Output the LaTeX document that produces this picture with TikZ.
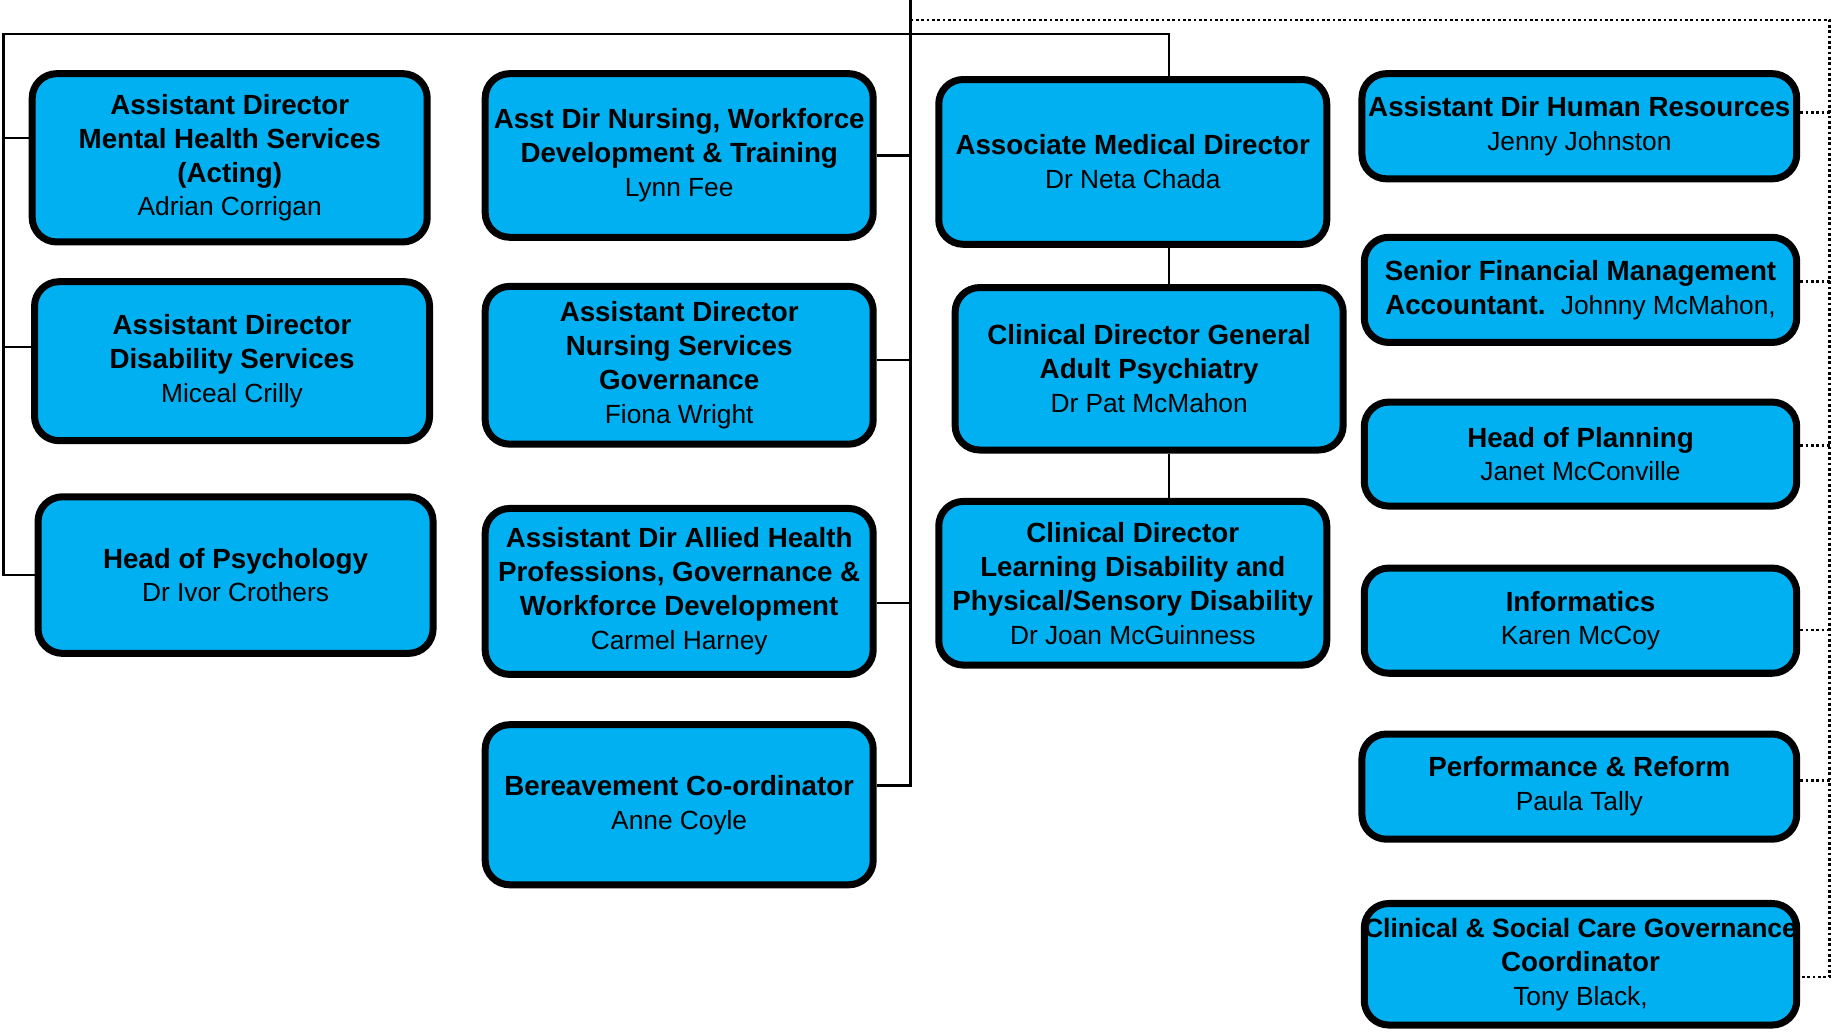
\documentclass[tikz,border=0pt]{standalone}
\usepackage{fontspec}
\setmainfont{Liberation Sans}
\usepackage{xcolor}
\usepackage{tikz}
\usetikzlibrary{positioning, backgrounds}
\definecolor{orgblue}{HTML}{00B0F0}
\newcommand{\who}[1]{{\fontsize{12.8}{16.5}\selectfont #1}}
\tikzset{
    post/.style={rectangle, draw=black, line width=0.12cm, fill=orgblue, rounded corners=0.42cm, align=center, inner sep=0pt, font=\fontsize{13.5}{16.5}\selectfont},
    postA/.style={post, minimum width=6.76cm},
    postB/.style={post, minimum width=6.64cm},
    postC/.style={post, minimum width=6.64cm},
    postD/.style={post, minimum width=7.40cm, minimum height=1.80cm},
    link/.style={line width=1.2pt},
    dotlink/.style={line width=1.3pt, dash pattern=on 1.3pt off 1.3pt},
}

\begin{document}
\begin{tikzpicture}[x=0.02cm, y=-0.02cm]
    \useasboundingbox (0,0) rectangle (1568,882);

    % === LEFT COLUMN ===
    \node[postA, minimum height=2.88cm] (mhs) at (196.5,135) {\textbf{Assistant Director}\\\textbf{Mental Health Services}\\\textbf{(Acting)}\\\who{Adrian Corrigan}};
    \node[postA, minimum height=2.72cm, below=0.56cm of mhs, xshift=0.04cm] (dis) {\textbf{Assistant Director}\\\textbf{Disability Services}\\\who{Miceal Crilly}};
    \node[postA, minimum height=2.68cm, below=0.84cm of dis, xshift=0.06cm] (psy) {\textbf{Head of Psychology}\\\who{Dr Ivor Crothers}};

    % === NURSING COLUMN ===
    \node[postB, minimum height=2.80cm] (nwd) at (581,133) {\textbf{Asst Dir Nursing, Workforce}\\\textbf{Development \& Training}\\\who{Lynn Fee}};
    \node[postB, minimum height=2.70cm, below=0.72cm of nwd] (nsg) {\textbf{Assistant Director}\\\textbf{Nursing Services}\\\textbf{Governance}\\\who{Fiona Wright}};
    \node[postB, minimum height=2.84cm, below=0.98cm of nsg] (ahp) {\textbf{Assistant Dir Allied Health}\\\textbf{Professions, Governance \&}\\\textbf{Workforce Development}\\\who{Carmel Harney}};
    \node[postB, minimum height=2.74cm, below=0.74cm of ahp] (ber) {\textbf{Bereavement Co-ordinator}\\\who{Anne Coyle}};

    % === MEDICAL COLUMN ===
    \node[postC, minimum height=2.82cm] (amd) at (969,138.5) {\textbf{Associate Medical Director}\\\who{Dr Neta Chada}};
    \node[postC, minimum height=2.78cm, below=0.62cm of amd, xshift=0.28cm] (gap) {\textbf{Clinical Director General}\\\textbf{Adult Psychiatry}\\\who{Dr Pat McMahon}};
    \node[postC, minimum height=2.80cm, below=0.76cm of gap, xshift=-0.28cm] (ldp) {\textbf{Clinical Director}\\\textbf{Learning Disability and}\\\textbf{Physical/Sensory Disability}\\\who{Dr Joan McGuinness}};

    % === SUPPORT COLUMN ===
    \node[postD, minimum width=7.44cm] (hr) at (1351,108) {\textbf{Assistant Dir Human Resources}\\\who{Jenny Johnston}};
    \node[postD, below=0.88cm of hr, xshift=0.02cm] (fin) {\textbf{Senior Financial Management}\\\textbf{Accountant.}\ \ \who{Johnny McMahon,}};
    \node[postD, minimum height=1.78cm, below=0.90cm of fin] (pla) {\textbf{Head of Planning}\\\who{Janet McConville}};
    \node[postD, below=0.94cm of pla] (inf) {\textbf{Informatics}\\\who{Karen McCoy}};
    \node[postD, minimum width=7.44cm, below=0.92cm of inf, xshift=-0.02cm] (per) {\textbf{Performance \& Reform}\\\who{Paula Tally}};
    \node[postD, minimum height=2.08cm, below=0.98cm of per, xshift=0.02cm] (gov) {\makebox[7cm]{\fontsize{12.9}{16.5}\selectfont\textbf{Clinical \& Social Care Governance}}\\\textbf{Coordinator}\\\who{Tony Black,}};

    % Connectors
    \coordinate (parent) at (779,0);
    \coordinate (lcorner) at (3,29);
    \coordinate (mdrop) at (1000,29);
    \coordinate (dcorner) at (1565,17);

    \begin{scope}[on background layer]
        % solid reporting lines
        \draw[link] ([yshift=0.33cm]ber.east) -| (parent);
        \draw[link] (nwd.east) -- (nwd.east -| parent);
        \draw[link] ([yshift=0.09cm]nsg.east) -- ([yshift=0.09cm]nsg.east -| parent);
        \draw[link] ([yshift=-0.2cm]ahp.east) -- ([yshift=-0.2cm]ahp.east -| parent);

        \draw[link] (psy.west) -| (lcorner) -- (mdrop) -- (mdrop |- amd.north);
        \draw[link] ([yshift=0.34cm]mhs.west) -- ([yshift=0.34cm]mhs.west -| lcorner);
        \draw[link] ([yshift=0.24cm]dis.west) -- ([yshift=0.24cm]dis.west -| lcorner);
        \draw[link] (mdrop |- amd.south) -- (mdrop |- gap.north);
        \draw[link] (mdrop |- gap.south) -- (mdrop |- ldp.north);

        % dotted lines
        \draw[dotlink] (parent |- dcorner) -- (dcorner) -- ([yshift=-0.22cm]gov.east -| dcorner) -- ([yshift=-0.22cm]gov.east);
        \draw[dotlink] ([yshift=0.24cm]hr.east) -- ([yshift=0.24cm]hr.east -| dcorner);
        \draw[dotlink] ([yshift=0.14cm]fin.east) -- ([yshift=0.14cm]fin.east -| dcorner);
        \draw[dotlink] ([yshift=0.15cm]pla.east) -- ([yshift=0.15cm]pla.east -| dcorner);
        \draw[dotlink] ([yshift=-0.16cm]inf.east) -- ([yshift=-0.16cm]inf.east -| dcorner);
        \draw[dotlink] ([yshift=0.1cm]per.east) -- ([yshift=0.1cm]per.east -| dcorner);
    \end{scope}

\end{tikzpicture}
\end{document}
